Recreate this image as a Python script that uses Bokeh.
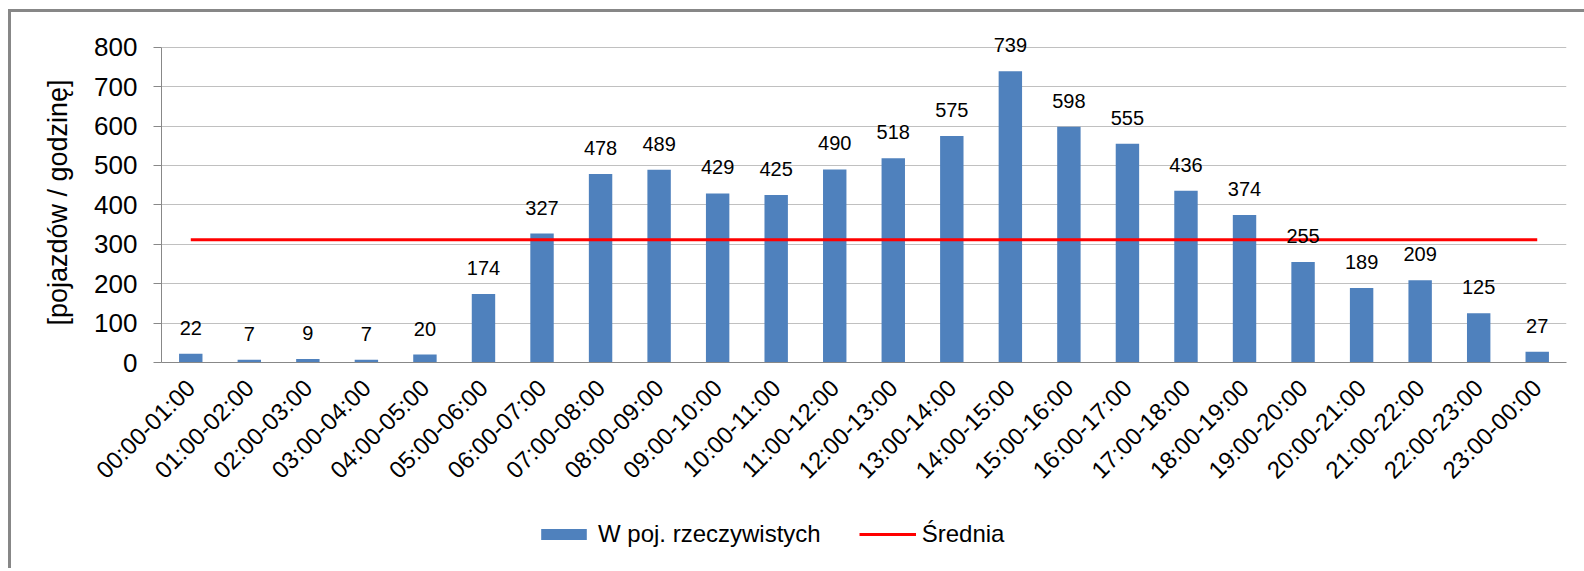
import math
from bokeh.plotting import figure
from bokeh.layouts import column
from bokeh.models import ColumnDataSource, LabelSet, Legend, LegendItem, FixedTicker, Range1d
from bokeh.core.properties import value
from bokeh.embed import file_html
from bokeh.resources import INLINE

categories = ["00:00-01:00", "01:00-02:00", "02:00-03:00", "03:00-04:00", "04:00-05:00",
              "05:00-06:00", "06:00-07:00", "07:00-08:00", "08:00-09:00", "09:00-10:00",
              "10:00-11:00", "11:00-12:00", "12:00-13:00", "13:00-14:00", "14:00-15:00",
              "15:00-16:00", "16:00-17:00", "17:00-18:00", "18:00-19:00", "19:00-20:00",
              "20:00-21:00", "21:00-22:00", "22:00-23:00", "23:00-00:00"]
values = [22, 7, 9, 7, 20, 174, 327, 478, 489, 429, 425, 490, 518, 575, 739,
          598, 555, 436, 374, 255, 189, 209, 125, 27]
mean_value = 311.5
y_ticks = [0, 100, 200, 300, 400, 500, 600, 700, 800]

FONT = "Liberation Sans"
BAR_COLOR = "#4F81BD"
AVG_COLOR = "#FF0000"

src = ColumnDataSource(dict(cat=categories, val=values, lbl=[str(v) for v in values]))
avg_src = ColumnDataSource(dict(cat=[categories[0], categories[-1]], avg=[mean_value, mean_value]))

p = figure(x_range=categories, y_range=Range1d(0, 850), frame_width=1405, frame_height=335,
           output_backend="svg", toolbar_location=None, title=None,
           min_border_left=150, min_border_right=18, min_border_top=15, min_border_bottom=120)
p.x_range.range_padding = 0
p.outline_line_color = None

p.vbar(x="cat", top="val", width=0.4, source=src, fill_color=BAR_COLOR, line_color=None)
p.line(x="cat", y="avg", source=avg_src, line_color=AVG_COLOR, line_width=3)

labels = LabelSet(x="cat", y="val", text="lbl", source=src, text_align="center",
                  text_baseline="alphabetic", y_offset=19, text_font=value(FONT),
                  text_font_size="20px", text_color="#000000")
p.add_layout(labels)

p.xgrid.grid_line_color = None
p.ygrid.grid_line_color = "#C0C0C0"
p.ygrid.grid_line_width = 1

p.yaxis.ticker = FixedTicker(ticks=y_ticks)
p.yaxis.bounds = (0, 800)
p.yaxis.axis_line_color = "#888888"
p.yaxis.major_tick_line_color = "#888888"
p.yaxis.major_tick_out = 8
p.yaxis.major_tick_in = 0
p.yaxis.minor_tick_line_color = None
p.yaxis.major_label_text_font = FONT
p.yaxis.major_label_text_font_size = "26px"
p.yaxis.major_label_text_color = "#000000"
p.yaxis.major_label_standoff = 16
p.yaxis.axis_label = "[pojazdów  /  godzinę]"
p.yaxis.axis_label_text_font = FONT
p.yaxis.axis_label_text_font_size = "27px"
p.yaxis.axis_label_text_font_style = "normal"
p.yaxis.axis_label_text_color = "#000000"
p.yaxis.axis_label_standoff = 18

p.xaxis.axis_line_color = "#888888"
p.xaxis.major_tick_line_color = None
p.xaxis.minor_tick_line_color = None
p.xaxis.major_tick_out = 0
p.xaxis.major_label_orientation = math.pi / 4
p.xaxis.major_label_text_font = FONT
p.xaxis.major_label_text_font_size = "24px"
p.xaxis.major_label_text_color = "#000000"
p.xaxis.major_label_standoff = 21

# legend strip: renderers share the data but its range holds none of the factors,
# so only the legend entries are drawn
leg = figure(x_range=["legend"], y_range=Range1d(0, 1), width=1573, height=72,
             output_backend="svg", toolbar_location=None,
             min_border_left=150, min_border_right=18, min_border_top=0, min_border_bottom=0)
leg.axis.visible = False
leg.grid.visible = False
leg.outline_line_color = None
r_bar = leg.vbar(x="cat", top="val", width=0.4, source=src, fill_color=BAR_COLOR, line_color=None)
r_avg = leg.line(x="cat", y="avg", source=avg_src, line_color=AVG_COLOR, line_width=3)
legend = Legend(items=[LegendItem(label="W poj. rzeczywistych", renderers=[r_bar]),
                       LegendItem(label="Średnia", renderers=[r_avg])],
                orientation="horizontal", location=(374, 20),
                glyph_width=57, glyph_height=14, label_standoff=6, spacing=38,
                padding=0, margin=0, border_line_color=None, background_fill_alpha=0,
                label_text_font=FONT, label_text_font_size="24px", label_text_color="#000000")
leg.add_layout(legend)

layout = column(p, leg, spacing=0)
layout.styles = {"border-top": "3px solid #878787", "border-left": "3px solid #878787",
                 "margin-left": "8px", "margin-top": "9px"}

open("out.html", "w").write(file_html(layout, INLINE))
